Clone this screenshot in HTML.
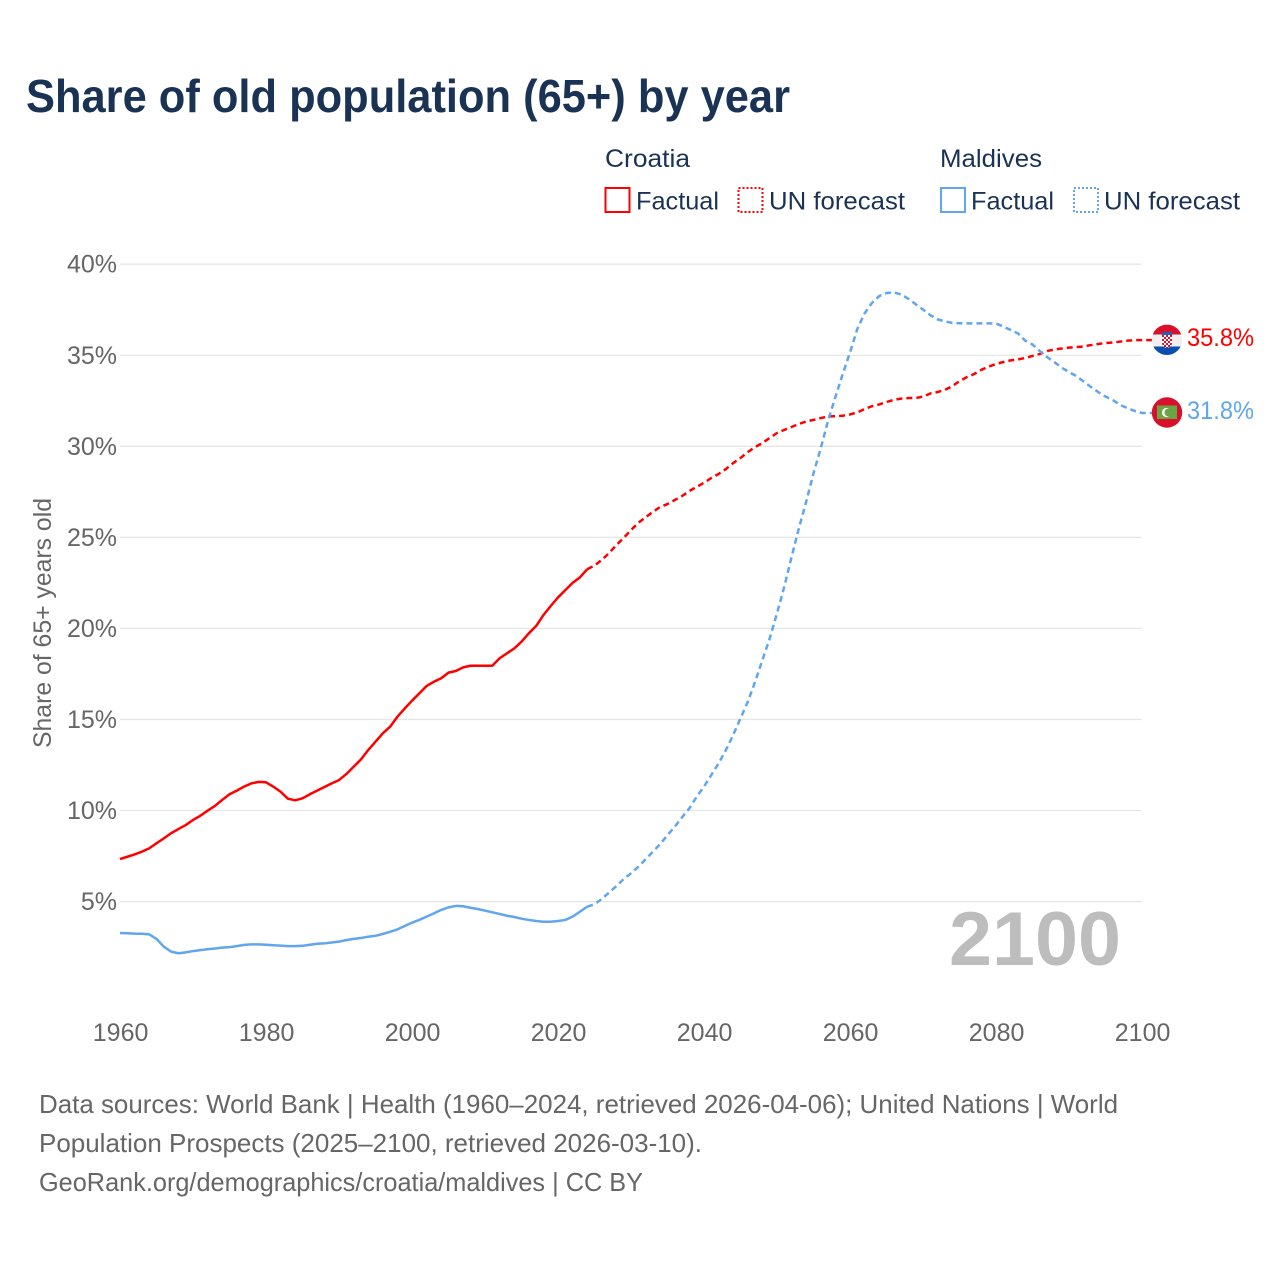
<!DOCTYPE html>
<html lang="en">
<head>
<meta charset="utf-8">
<title>Share of old population (65+) by year</title>
<style>
html,body{margin:0;padding:0;background:#fff;}
body{width:1280px;height:1280px;overflow:hidden;}
svg{display:block;font-family:"Liberation Sans",sans-serif;}
.axis{font-size:25px;fill:#666;}
.leg{font-size:25px;fill:#1a3355;}
.foot{font-size:26px;fill:#666;}
</style>
</head>
<body>
<svg id="chart" width="1280" height="1280" viewBox="0 0 1280 1280" xmlns="http://www.w3.org/2000/svg">
  <text x="26" y="112" font-size="46" font-weight="700" fill="#1a3355" textLength="764" lengthAdjust="spacingAndGlyphs">Share of old population (65+) by year</text>

  <g>
    <text class="leg" x="605" y="167" textLength="85" lengthAdjust="spacingAndGlyphs">Croatia</text>
    <rect x="605.5" y="188" width="24" height="24" fill="none" stroke="#ff0000" stroke-width="2"/>
    <text class="leg" x="636" y="209.5" textLength="83" lengthAdjust="spacingAndGlyphs">Factual</text>
    <rect x="738.5" y="188" width="24" height="24" fill="none" stroke="#ff0000" stroke-width="2" stroke-dasharray="2 2"/>
    <text class="leg" x="769" y="209.5" textLength="136" lengthAdjust="spacingAndGlyphs">UN forecast</text>
    <text class="leg" x="940" y="167" textLength="102" lengthAdjust="spacingAndGlyphs">Maldives</text>
    <rect x="941" y="188" width="24" height="24" fill="none" stroke="#5fa6ee" stroke-width="2"/>
    <text class="leg" x="971" y="209.5" textLength="83" lengthAdjust="spacingAndGlyphs">Factual</text>
    <rect x="1074" y="188" width="24" height="24" fill="none" stroke="#5fa6ee" stroke-width="2" stroke-dasharray="2 2"/>
    <text class="leg" x="1104" y="209.5" textLength="136" lengthAdjust="spacingAndGlyphs">UN forecast</text>
  </g>

  <g id="grid"></g>
  <g id="yticks"></g>
  <g id="xticks"></g>

  <text class="axis" transform="translate(51,623) rotate(-90)" text-anchor="middle" textLength="250" lengthAdjust="spacingAndGlyphs">Share of 65+ years old</text>

  <text x="949" y="965" font-size="76" font-weight="700" fill="#bdbdbd" textLength="172" lengthAdjust="spacingAndGlyphs">2100</text>

  <g id="series"></g>

  <defs>
    <clipPath id="hr-clip"><circle cx="1167" cy="339.8" r="15.2"/></clipPath>
    <clipPath id="mv-clip"><circle cx="1167" cy="412.5" r="15.2"/></clipPath>
    <pattern id="hr-check" x="1162" y="335" width="4" height="4" patternUnits="userSpaceOnUse">
      <rect width="4" height="4" fill="#fff"/>
      <rect width="2" height="2" fill="#d8102c"/>
      <rect x="2" y="2" width="2" height="2" fill="#d8102c"/>
    </pattern>
  </defs>

  <g clip-path="url(#hr-clip)">
    <rect x="1150" y="323" width="34" height="11.5" fill="#d8102c"/>
    <rect x="1150" y="334.5" width="34" height="12" fill="#f0f0f0"/>
    <rect x="1150" y="346.5" width="34" height="10" fill="#0a4fb0"/>
    <rect x="1162" y="332" width="10" height="3" fill="#2a5fb8"/>
    <path d="M1162 335h10v8q0 4-5 5q-5-1-5-5z" fill="url(#hr-check)"/>
  </g>
  <g clip-path="url(#mv-clip)">
    <rect x="1150" y="395" width="34" height="34" fill="#d8102c"/>
    <rect x="1157" y="405.5" width="20" height="13.5" fill="#6aa443"/>
    <circle cx="1166.5" cy="412.5" r="4.6" fill="#fff"/>
    <circle cx="1168.5" cy="412.5" r="4" fill="#6aa443"/>
  </g>

  <text x="1187" y="346" font-size="25" fill="#ff0000" textLength="67" lengthAdjust="spacingAndGlyphs">35.8%</text>
  <text x="1187" y="419" font-size="25" fill="#5fa6ee" textLength="67" lengthAdjust="spacingAndGlyphs">31.8%</text>

  <g>
    <text class="foot" x="39" y="1113" textLength="1079" lengthAdjust="spacingAndGlyphs">Data sources: World Bank | Health (1960–2024, retrieved 2026-04-06); United Nations | World</text>
    <text class="foot" x="39" y="1152" textLength="663" lengthAdjust="spacingAndGlyphs">Population Prospects (2025–2100, retrieved 2026-03-10).</text>
    <text class="foot" x="39" y="1191" textLength="604" lengthAdjust="spacingAndGlyphs">GeoRank.org/demographics/croatia/maldives | CC BY</text>
  </g>
</svg>

<script>
var yTickValues = [5, 10, 15, 20, 25, 30, 35, 40];
var yTickLabels = ["5%", "10%", "15%", "20%", "25%", "30%", "35%", "40%"];
var xTickYears = [1960, 1980, 2000, 2020, 2040, 2060, 2080, 2100];
var xTickLabels = ["1960", "1980", "2000", "2020", "2040", "2060", "2080", "2100"];

var factualStartYear = 1960;
var forecastStartYear = 2024;

var croatiaFactual = [
  7.33, 7.46, 7.59, 7.74, 7.92, 8.2, 8.47, 8.75, 8.98, 9.2,
  9.48, 9.71, 9.99, 10.25, 10.58, 10.89, 11.09, 11.31, 11.49, 11.57,
  11.55, 11.31, 11.03, 10.65, 10.56, 10.67, 10.89, 11.09, 11.29, 11.49,
  11.67, 12.0, 12.4, 12.8, 13.32, 13.78, 14.24, 14.6, 15.15, 15.6,
  16.03, 16.43, 16.84, 17.07, 17.26, 17.57, 17.66, 17.86, 17.95, 17.95,
  17.95, 17.95, 18.36, 18.63, 18.9, 19.27, 19.73, 20.13, 20.73, 21.23,
  21.7, 22.1, 22.5, 22.8, 23.25
];
var croatiaForecast = [
  23.25, 23.45, 23.76, 24.14, 24.58, 24.97, 25.4, 25.8, 26.1, 26.4, 26.67,
  26.83, 27.05, 27.27, 27.55, 27.77, 28.0, 28.26, 28.48, 28.75, 29.08,
  29.36, 29.68, 29.96, 30.18, 30.46, 30.73, 30.9, 31.06, 31.23, 31.36,
  31.45, 31.55, 31.64, 31.65, 31.68, 31.75, 31.86, 32.05, 32.2, 32.3,
  32.43, 32.55, 32.62, 32.65, 32.65, 32.73, 32.9, 32.98, 33.1, 33.3,
  33.58, 33.8, 33.97, 34.2, 34.38, 34.52, 34.63, 34.72, 34.77, 34.85,
  34.96, 35.07, 35.23, 35.32, 35.37, 35.42, 35.45, 35.48, 35.56, 35.62,
  35.67, 35.7, 35.75, 35.8, 35.83, 35.83
];
var maldivesFactual = [
  3.27, 3.26, 3.24, 3.23, 3.2, 2.95, 2.52, 2.25, 2.16, 2.21,
  2.28, 2.33, 2.38, 2.42, 2.47, 2.5, 2.55, 2.62, 2.65, 2.65,
  2.63, 2.6, 2.58, 2.55, 2.55, 2.57, 2.63, 2.68, 2.7, 2.75,
  2.8, 2.88, 2.95, 3.0, 3.07, 3.12, 3.22, 3.34, 3.47, 3.66,
  3.84, 3.99, 4.17, 4.35, 4.54, 4.68, 4.76, 4.74, 4.66, 4.59,
  4.5, 4.41, 4.32, 4.22, 4.15, 4.06, 3.99, 3.93, 3.89, 3.89,
  3.93, 3.99, 4.17, 4.44, 4.72
];
var maldivesForecast = [
  4.72, 4.85, 5.14, 5.5, 5.85, 6.24, 6.55, 6.91, 7.32, 7.74, 8.16,
  8.65, 9.11, 9.63, 10.12, 10.76, 11.31, 11.95, 12.59, 13.32, 14.15,
  15.06, 15.97, 17.07, 18.26, 19.45, 20.83, 22.29, 23.93, 25.5, 26.96,
  28.52, 29.9, 31.42, 32.7, 33.97, 35.15, 36.44, 37.3, 37.87, 38.25,
  38.42, 38.45, 38.34, 38.1, 37.8, 37.51, 37.2, 36.97, 36.86, 36.78,
  36.76, 36.75, 36.75, 36.75, 36.75, 36.74, 36.58, 36.39, 36.2, 35.8,
  35.59, 35.23, 34.9, 34.62, 34.32, 34.08, 33.86, 33.56, 33.26, 32.98,
  32.73, 32.54, 32.27, 32.1, 31.94, 31.83
];

var SVGNS = "http://www.w3.org/2000/svg";
var plotLeft = 120, plotRight = 1141.5, yearStep = 7.3, yZero = 992.6, yUnit = 18.21;
var flagConnectorX = 1152;

function xScale(year) { return plotLeft + (year - 1960) * yearStep; }
function yScale(value) { return yZero - value * yUnit; }

function pathFrom(startYear, values) {
  var d = "";
  for (var i = 0; i < values.length; i++) {
    d += (i === 0 ? "M" : "L") + xScale(startYear + i).toFixed(2) + " " + yScale(values[i]).toFixed(2);
  }
  return d;
}

function drawLine(name, startYear, values, color, dashed) {
  var p = document.createElementNS(SVGNS, "path");
  var d = pathFrom(startYear, values);
  if (dashed) {
    d += "L" + flagConnectorX + " " + yScale(values[values.length - 1]).toFixed(2);
    p.setAttribute("stroke-dasharray", "6 4");
  }
  p.setAttribute("d", d);
  p.setAttribute("fill", "none");
  p.setAttribute("stroke", color);
  p.setAttribute("stroke-width", "2.5");
  p.setAttribute("stroke-linejoin", "round");
  
  
  document.getElementById("series").appendChild(p);
}

yTickValues.forEach(function (v, i) {
  var line = document.createElementNS(SVGNS, "line");
  line.setAttribute("x1", plotLeft);
  line.setAttribute("x2", plotRight);
  line.setAttribute("y1", yScale(v));
  line.setAttribute("y2", yScale(v));
  line.setAttribute("stroke", "#e6e6e6");
  line.setAttribute("stroke-width", "1.3");
  
  
  document.getElementById("grid").appendChild(line);

  var t = document.createElementNS(SVGNS, "text");
  t.setAttribute("x", 117);
  t.setAttribute("y", yScale(v) + 8.5);
  t.setAttribute("text-anchor", "end");
  t.setAttribute("class", "axis");
  
  
  t.textContent = yTickLabels[i];
  document.getElementById("yticks").appendChild(t);
});

xTickYears.forEach(function (year, i) {
  var t = document.createElementNS(SVGNS, "text");
  t.setAttribute("x", xScale(year) + 0.6);
  t.setAttribute("y", 1041);
  t.setAttribute("text-anchor", "middle");
  t.setAttribute("class", "axis");
  
  
  t.textContent = xTickLabels[i];
  document.getElementById("xticks").appendChild(t);
});

drawLine("croatia-factual-line", factualStartYear, croatiaFactual, "#ff0000", false);
drawLine("croatia-forecast-line", forecastStartYear, croatiaForecast, "#ff0000", true);
drawLine("maldives-factual-line", factualStartYear, maldivesFactual, "#5fa6ee", false);
drawLine("maldives-forecast-line", forecastStartYear, maldivesForecast, "#5fa6ee", true);
</script>
</body>
</html>
